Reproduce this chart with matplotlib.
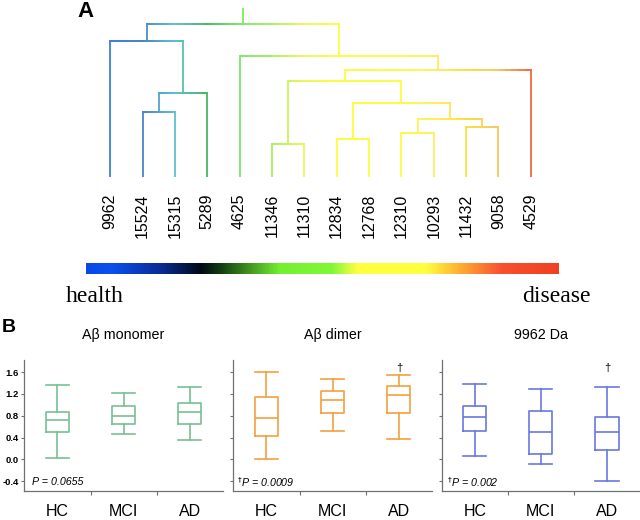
import numpy as np
import matplotlib
matplotlib.use('Agg')
import matplotlib.pyplot as plt
from matplotlib.colors import LinearSegmentedColormap, Normalize
from matplotlib.collections import LineCollection

plt.rcParams['font.family'] = ['Liberation Sans', 'DejaVu Sans']

# ---------------- data ----------------
leaves = ['9962', '15524', '15315', '5289', '4625', '11346', '11310',
          '12834', '12768', '12310', '10293', '11432', '9058', '4529']
# merges (scipy-like: leaves 0..13, new clusters 14..)
merge_a = [1, 14, 0, 5, 7, 9, 11, 19, 18, 17, 23, 4, 16]
merge_b = [2, 3, 15, 6, 8, 10, 12, 20, 21, 22, 13, 24, 25]
merge_h = [65.0, 83.7, 136.0, 32.4, 38.0, 44.0, 50.0, 57.4, 73.7, 95.4,
           106.7, 120.7, 152.7]
root_top = 168.7

groups = ['HC', 'MCI', 'AD']
panel_titles = ['A\u03b2 monomer', 'A\u03b2 dimer', '9962 Da']
p_texts = ['P = 0.0655', r'$^{\dagger}$P = 0.0009', r'$^{\dagger}$P = 0.002']
mono_lo = [0.03, 0.47, 0.35]
mono_q1 = [0.51, 0.65, 0.64]
mono_med = [0.72, 0.80, 0.87]
mono_q3 = [0.87, 0.98, 1.03]
mono_hi = [1.37, 1.21, 1.33]
dimer_lo = [0.01, 0.52, 0.37]
dimer_q1 = [0.42, 0.85, 0.85]
dimer_med = [0.75, 1.08, 1.17]
dimer_q3 = [1.15, 1.26, 1.34]
dimer_hi = [1.60, 1.47, 1.55]
da_lo = [0.06, -0.08, -0.40]
da_q1 = [0.52, 0.09, 0.17]
da_med = [0.77, 0.50, 0.50]
da_q3 = [0.97, 0.89, 0.77]
da_hi = [1.38, 1.29, 1.32]
dagger_flags = [False, True, True]
yticks_vals = [-0.4, 0.0, 0.4, 0.8, 1.2, 1.6]

# ---------------- figure ----------------
W, H = 640, 520
fig = plt.figure(figsize=(W / 100, H / 100), dpi=100)


def px_axes(l, t, r, b):
    return fig.add_axes([l / W, 1 - b / H, (r - l) / W, (b - t) / H])


# dendrogram line colormap by leaf position
line_cmap = LinearSegmentedColormap.from_list('dend', [
    (0 / 13, '#3f7fd8'), (1 / 13, '#4a86c4'), (2 / 13, '#5ec0d0'),
    (3 / 13, '#48b860'), (4 / 13, '#78e868'), (5 / 13, '#a8f060'),
    (6 / 13, '#eaf858'), (7 / 13, '#fcfc40'), (9 / 13, '#fcfc45'),
    (10 / 13, '#fcf060'), (11 / 13, '#fce040'), (12 / 13, '#f8c860'),
    (13 / 13, '#f06840')])
norm = Normalize(0, 13)

axd = px_axes(94, 8, 547, 176.7)
axd.set_xlim(-0.5, 13.5)
axd.set_ylim(0, root_top)
LW = 1.3


def hline(x0, x1, y):
    xs = np.linspace(x0, x1, 80)
    segs = [[(xs[i], y), (xs[i + 1], y)] for i in range(len(xs) - 1)]
    cols = line_cmap(norm((xs[:-1] + xs[1:]) / 2))
    axd.add_collection(LineCollection(segs, colors=cols, linewidths=LW,
                                      capstyle='projecting'))


def vline(x, y0, y1):
    axd.plot([x, x], [y0, y1], color=line_cmap(norm(x)), lw=LW,
             solid_capstyle='projecting')


pos = {i: float(i) for i in range(len(leaves))}
hgt = {i: 0.0 for i in range(len(leaves))}
for k, (a, b, h) in enumerate(zip(merge_a, merge_b, merge_h)):
    cid = len(leaves) + k
    vline(pos[a], hgt[a], h)
    vline(pos[b], hgt[b], h)
    hline(pos[a], pos[b], h)
    pos[cid] = (pos[a] + pos[b]) / 2
    hgt[cid] = h
root = len(leaves) + len(merge_h) - 1
vline(pos[root], hgt[root], root_top)

axd.set_xticks(range(len(leaves)))
axd.set_xticklabels(leaves, rotation=90, fontsize=11.5, va='top')
axd.tick_params(axis='x', length=0, pad=12)
axd.set_yticks([])
for s in axd.spines.values():
    s.set_visible(False)

fig.text(77 / W, 1 - 1 / H, 'A', fontsize=16, fontweight='bold', va='top',
         ha='left')

# colour bar
cbar_cmap = LinearSegmentedColormap.from_list('hd', [
    (0.00, '#0a48e8'), (0.05, '#0a50f0'), (0.16, '#0a2a90'),
    (0.24, '#000818'), (0.28, '#103810'), (0.41, '#74f030'),
    (0.52, '#80f838'), (0.575, '#ffff40'), (0.72, '#ffff40'),
    (0.79, '#ffb030'), (0.88, '#f85030'), (1.00, '#f04020')])
axc = px_axes(86, 262.7, 558.3, 274)
axc.imshow(np.linspace(0, 1, 600)[None, :], aspect='auto', cmap=cbar_cmap)
axc.set_axis_off()

fig.text(66 / W, 1 - 297 / H, 'health', family='Liberation Serif',
         fontsize=17, va='center', ha='left')
fig.text(591 / W, 1 - 297 / H, 'disease', family='Liberation Serif',
         fontsize=17, va='center', ha='right')

# ---------------- box plots ----------------
fig.text(2 / W, 1 - 319 / H, 'B', fontsize=14, fontweight='bold', va='top',
         ha='left')

panel_stats = [
    (mono_lo, mono_q1, mono_med, mono_q3, mono_hi),
    (dimer_lo, dimer_q1, dimer_med, dimer_q3, dimer_hi),
    (da_lo, da_q1, da_med, da_q3, da_hi),
]
colors = ['#78c095', '#f5a040', '#6878e0']
lefts = [24.3, 233.3, 441.7]
rights = [223, 432, 640]
p_x = [0.037, 0.017, 0.028]
spine_col = '#707070'

for i in range(3):
    ax = px_axes(lefts[i], 360, rights[i], 491)
    lo, q1, med, q3, hi = panel_stats[i]
    stats = [dict(whislo=lo[j], q1=q1[j], med=med[j], q3=q3[j],
                  whishi=hi[j], label=groups[j]) for j in range(3)]
    c = colors[i]
    ax.bxp(stats, positions=[0, 1, 2], widths=0.35, capwidths=0.35,
           showfliers=False,
           boxprops=dict(color=c, lw=1.2),
           whiskerprops=dict(color=c, lw=1.2),
           capprops=dict(color=c, lw=1.2),
           medianprops=dict(color=c, lw=1.2))
    ax.set_xlim(-0.5, 2.5)
    ax.set_ylim(-0.58, 1.82)
    for s in ['top', 'right']:
        ax.spines[s].set_visible(False)
    for s in ['left', 'bottom']:
        ax.spines[s].set_color(spine_col)
        ax.spines[s].set_linewidth(0.9)
    ax.set_xticks([0, 1, 2])
    ax.set_xticklabels(groups, fontsize=11.5)
    ax.set_xticks([0.5, 1.5], minor=True)
    ax.tick_params(axis='x', which='major', length=0, pad=9)
    ax.tick_params(axis='x', which='minor', length=3, width=0.8,
                   color=spine_col)
    ax.set_yticks(yticks_vals)
    ax.tick_params(axis='y', length=2.5, width=0.8, color=spine_col, pad=1.5)
    if i == 0:
        ax.set_yticklabels(['%.1f' % v for v in yticks_vals], fontsize=6.8,
                           fontweight='bold')
    else:
        ax.set_yticklabels([])
    ax.text(0.5, 1 + 25 / 131, panel_titles[i], transform=ax.transAxes,
            ha='center', va='center', fontsize=10.3)
    ax.text(p_x[i], 0.069, p_texts[i], transform=ax.transAxes, ha='left',
            va='center', fontsize=7.7, style='italic')
    if dagger_flags[i]:
        ax.text(2, 1.67, '\u2020', ha='center', va='center', fontsize=8)

fig.savefig('out.png', dpi=100)
